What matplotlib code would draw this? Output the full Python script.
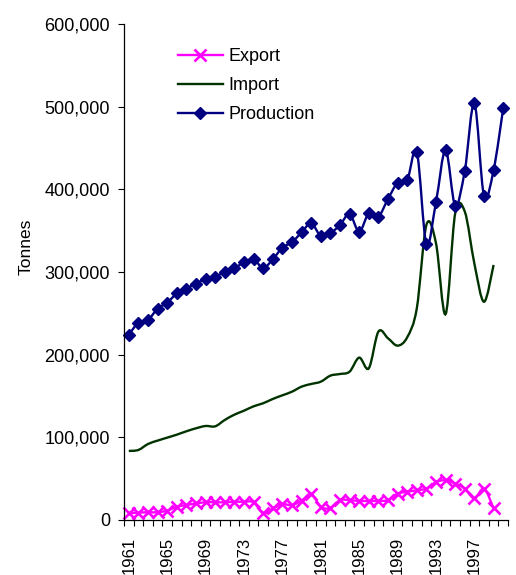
import numpy as np
import matplotlib.pyplot as plt
from matplotlib.path import Path
from matplotlib.patches import PathPatch
from matplotlib.lines import Line2D
from matplotlib.ticker import FuncFormatter

plt.rcParams['font.family'] = ['Liberation Sans', 'DejaVu Sans']

years = np.arange(1961, 2001)

production = [224000, 238700, 242000, 255600, 262900, 274000, 280000, 286000,
              291500, 294400, 300000, 304500, 311700, 315300, 304800, 315300,
              329500, 335900, 348000, 358900, 343600, 346800, 356900, 370000,
              348800, 371000, 367000, 388300, 408000, 411000, 445600, 333500,
              384700, 447600, 380200, 422600, 504000, 392000, 423400, 498000]

imports = [83500, 84700, 91900, 96000, 99600, 103200, 107300, 110900,
           113700, 113300, 121000, 127400, 132200, 137500, 141200, 146400,
           150800, 155200, 161300, 164500, 167300, 174600, 176600, 179400,
           196400, 183500, 227800, 219800, 210900, 221000, 256000, 356900,
           334700, 249000, 371000, 373000, 310000, 264000, 308500]

exports = [8100, 8900, 9300, 9300, 11300, 16000, 18000, 20000,
           21400, 21400, 21400, 22000, 22000, 21400, 8000, 14000,
           19000, 18000, 23400, 31500, 16000, 14500, 24000, 24000,
           23000, 23000, 23000, 24000, 32000, 34000, 36000, 38000,
           46000, 48000, 44000, 38000, 26000, 38000, 14000]

year_labels = [str(y) for y in range(1961, 2000, 4)]


def smooth_path(x, y):
    # Bezier segments through the points, like Excel's smoothed line
    x = np.asarray(x, float)
    y = np.asarray(y, float)
    pts = np.column_stack([x, y])
    n = len(pts)
    verts = [pts[0]]
    codes = [Path.MOVETO]
    for i in range(n - 1):
        p0 = pts[i - 1] if i > 0 else pts[i]
        p1 = pts[i]
        p2 = pts[i + 1]
        p3 = pts[i + 2] if i + 2 < n else pts[i + 1]
        c1 = p1 + (p2 - p0) / 6.0
        c2 = p2 - (p3 - p1) / 6.0
        verts += [c1, c2, p2]
        codes += [Path.CURVE4] * 3
    return Path(verts, codes)


fig = plt.figure(figsize=(5.16, 5.75), dpi=100)
ax = fig.add_axes([0.2403, 0.0957, 0.7442, 0.8626])

c_exp = '#FF00FF'
c_imp = '#003300'
c_prod = '#000080'

series = [
    (exports, c_exp),
    (imports, c_imp),
    (production, c_prod),
]
for vals, col in series:
    p = smooth_path(years[:len(vals)], vals)
    ax.add_patch(PathPatch(p, facecolor='none', edgecolor=col, lw=1.7,
                           transform=ax.transData, clip_on=False))

ax.plot(years[:len(exports)], exports, ls='none', marker='x', ms=9, mew=1.9,
        color=c_exp, clip_on=False)
ax.plot(years, production, ls='none', marker='D', ms=6, color=c_prod,
        clip_on=False)

ax.set_xlim(1960.5, 2000.5)
ax.set_ylim(0, 600000)

ax.set_xticks(list(range(1961, 2000, 4)))
ax.set_xticklabels(year_labels, rotation=90, va='top', ha='center')
ax.set_xticks(np.arange(1960.5, 2001, 1), minor=True)
ax.tick_params(axis='x', which='major', length=0, pad=12, labelsize=12)
ax.tick_params(axis='x', which='minor', length=4, width=0.8, direction='out')

ax.set_yticks(range(0, 600001, 100000))
ax.yaxis.set_major_formatter(FuncFormatter(lambda v, _: f'{int(v):,}'))
ax.tick_params(axis='y', length=4, width=0.8, pad=6, labelsize=13)

ax.spines['top'].set_visible(False)
ax.spines['right'].set_visible(False)
for s in ('left', 'bottom'):
    ax.spines[s].set_linewidth(0.9)

ax.set_ylabel('Tonnes', fontsize=12.5)
ax.yaxis.set_label_coords(-0.236, 0.55)

handles = [
    Line2D([], [], color=c_exp, lw=1.7, marker='x', ms=9, mew=1.9),
    Line2D([], [], color=c_imp, lw=1.7),
    Line2D([], [], color=c_prod, lw=1.7, marker='D', ms=6),
]
ax.legend(handles, ['Export', 'Import', 'Production'], loc='upper left',
          bbox_to_anchor=(0.14, 0.951), frameon=False, fontsize=13,
          handlelength=2.5, handletextpad=0.3, labelspacing=0.67,
          borderpad=0, borderaxespad=0)

fig.savefig('out.png', dpi=100)
